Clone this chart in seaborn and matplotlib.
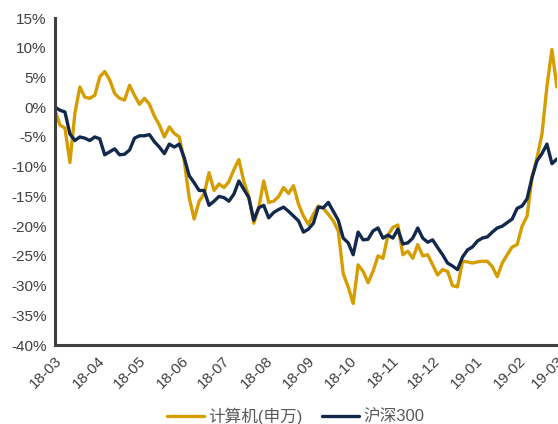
import pandas as pd
import numpy as np
import matplotlib
matplotlib.use('Agg')
import matplotlib.pyplot as plt
import matplotlib.dates as mdates
from matplotlib.ticker import FuncFormatter
import seaborn as sns

# dates: evenly spaced sample points from 2018-03-01 to 2019-03-01
dates = pd.date_range('2018-03-01', '2019-03-01', periods=102)

# 计算机(申万) cumulative return, %
computer = [-0.5, -3.0, -3.5, -9.3, -1.0, 3.4, 1.7, 1.5, 2.0, 5.1,
            6.0, 4.6, 2.3, 1.5, 1.2, 3.7, 2.0, 0.5, 1.5, 0.5,
            -1.5, -3.0, -5.0, -3.3, -4.4, -5.0, -9.0, -15.2, -18.8, -15.8,
            -14.6, -11.0, -14.0, -12.9, -13.5, -12.5, -10.5, -8.8, -12.5, -15.0,
            -19.5, -16.9, -12.4, -16.0, -15.8, -15.0, -13.5, -14.5, -13.2, -16.3,
            -18.3, -19.7, -18.0, -16.6, -17.0, -18.0, -19.1, -20.8, -28.0, -30.2,
            -33.0, -26.5, -27.6, -29.5, -27.6, -25.0, -25.4, -21.5, -20.2, -19.8,
            -24.8, -24.2, -25.4, -23.1, -25.0, -24.8, -26.5, -28.2, -27.3, -27.6,
            -30.0, -30.2, -25.9, -26.0, -26.2, -26.0, -25.9, -25.9, -26.8, -28.5,
            -26.2, -24.8, -23.5, -23.1, -20.0, -18.3, -11.8, -8.5, -4.5, 3.5,
            9.7, 3.4]

# 沪深300 cumulative return, %
hs300 = [0.0, -0.5, -0.8, -4.5, -5.6, -5.0, -5.2, -5.6, -5.0, -5.3,
         -8.0, -7.5, -7.0, -8.0, -7.9, -7.2, -5.2, -4.8, -4.8, -4.6,
         -5.8, -6.7, -7.8, -6.2, -6.7, -6.2, -8.5, -11.5, -12.7, -14.0,
         -14.0, -16.5, -15.8, -15.0, -15.2, -15.8, -14.6, -12.4, -13.8, -15.2,
         -19.0, -16.9, -16.5, -18.6, -17.7, -17.2, -16.8, -17.5, -18.3, -19.1,
         -21.0, -20.5, -19.5, -16.8, -16.9, -16.0, -17.5, -19.0, -22.0, -22.8,
         -24.8, -21.0, -22.3, -22.2, -20.8, -20.3, -22.0, -21.5, -22.0, -20.5,
         -23.0, -22.8, -22.0, -20.3, -22.0, -22.7, -22.3, -23.6, -24.8, -26.2,
         -26.7, -27.3, -25.2, -24.0, -23.5, -22.5, -22.0, -21.8, -21.0, -20.3,
         -20.0, -19.4, -18.8, -17.0, -16.6, -15.4, -11.8, -9.0, -7.8, -6.2,
         -9.5, -8.7]

series_names = ['计算机(申万)', '沪深300']
colors = ['#D69D00', '#13294B']

df = pd.DataFrame({'date': dates, series_names[0]: computer, series_names[1]: hs300})
df = df.melt(id_vars='date', var_name='series', value_name='ret')

sns.set_style('white')
plt.rcParams['font.family'] = ['Liberation Sans', 'Noto Sans CJK SC', 'DejaVu Sans']

fig = plt.figure(figsize=(5.58, 4.24), dpi=100)
ax = fig.add_axes([0.0986, 0.186, 0.8994, 0.7715])

sns.lineplot(data=df, x='date', y='ret', hue='series', hue_order=series_names,
             palette=colors, linewidth=2.4, ax=ax, legend=False)

ax.set_xlim(pd.Timestamp('2018-03-01'), pd.Timestamp('2019-03-01'))
ax.set_ylim(-40, 15)
ax.set_yticks(np.arange(-40, 16, 5))
ax.yaxis.set_major_formatter(FuncFormatter(lambda v, p: f'{int(v)}%'))
ax.xaxis.set_major_locator(mdates.MonthLocator())
ax.xaxis.set_major_formatter(mdates.DateFormatter('%y-%m'))
ax.set_xlabel('')
ax.set_ylabel('')

for side in ['top', 'right']:
    ax.spines[side].set_visible(False)
for side in ['left', 'bottom']:
    ax.spines[side].set_color('#404040')
    ax.spines[side].set_linewidth(2.2)

ax.tick_params(axis='both', direction='out', length=4, width=1.8, color='#404040',
               labelsize=11, labelcolor='#404040', pad=2)
plt.setp(ax.get_xticklabels(), rotation=45, ha='right', rotation_mode='anchor')

handles = [plt.Line2D([], [], color=c, linewidth=2.4) for c in colors]
fig.legend(handles, series_names, loc='center', bbox_to_anchor=(0.53, 0.018),
           ncol=2, frameon=False, fontsize=12, handlelength=2.2, handletextpad=0.25,
           columnspacing=1.2, labelcolor='#595959', borderpad=0)

fig.savefig('out.png', dpi=100)
